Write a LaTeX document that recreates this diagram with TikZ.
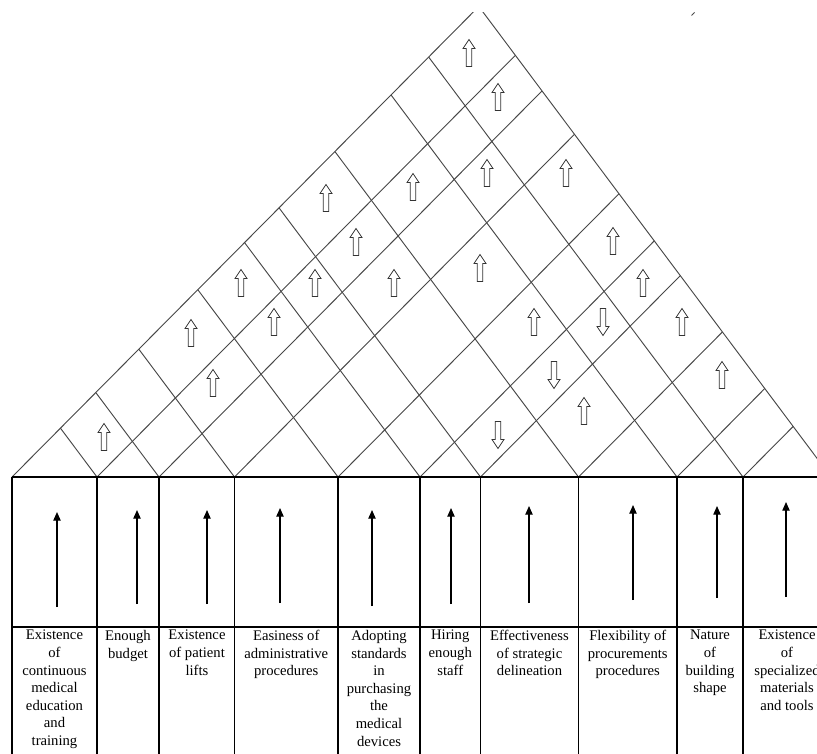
\documentclass[tikz,border=0pt]{standalone}
\usepackage{fontspec}
\setmainfont{Liberation Serif}
\usetikzlibrary{arrows.meta,calc}
\begin{document}
\begin{tikzpicture}[x=0.75pt,y=-0.75pt,
  roofline/.style={draw=black!72, line width=0.7pt},
  boxline/.style={draw=black, line width=0.9pt},
  colarrow/.style={draw=black, line width=0.9pt, -{Triangle[length=6.5pt,width=5.5pt]}},
  lbl/.style={anchor=north, inner sep=0pt, align=center, font=\fontsize{11}{13.2}\selectfont},
  hollow/.pic={\draw[line width=0.6pt, draw=black!80, fill=white] (0,-13.5) -- (6,-4.5) -- (2.8,-4.5) -- (2.8,13.5) -- (-2.8,13.5) -- (-2.8,-4.5) -- (-6,-4.5) -- cycle;}
]
\useasboundingbox (0,0) rectangle (817,753);
\fill[white] (0,0) rectangle (817,753);
\begin{scope}
\clip (0,12) rectangle (817,753);
% column boundaries on the base line
\foreach \n/\bx in {0/12,1/97,2/159,3/234.5,4/338,5/420,6/480.5,7/578.5,8/677,9/743,10/831}{
  \coordinate (b\n) at (\bx,477);
}
% lines rising to the right, ending on the right edge of the roof
\foreach \n/\bx in {0/12,1/97,2/159,3/234.5,4/338,5/420,6/480.5,7/578.5,8/677,9/743}{
  \pgfmathsetmacro\ex{(1.008*\bx+1.336*831)/2.344}
  \pgfmathsetmacro\ey{477-(\ex-\bx)*1.008}
  \coordinate (r\n) at (\ex,\ey);
  \draw[roofline] (b\n) -- (r\n);
}
% lines rising to the left, ending on the left edge of the roof
\foreach \n/\bx in {1/97,2/159,3/234.5,4/338,5/420,6/480.5,7/578.5,8/677,9/743,10/831}{
  \pgfmathsetmacro\ex{(1.008*12+1.336*\bx)/2.344}
  \pgfmathsetmacro\ey{477-(\ex-12)*1.008}
  \coordinate (l\n) at (\ex,\ey);
  \draw[roofline] (b\n) -- (l\n);
}
% box
\coordinate (tl) at (12,477);
\coordinate (tr) at (831,477);
\coordinate (ml) at (12,627);
\coordinate (mr) at (831,627);
\draw[boxline] (tl) -- (tr);
\draw[boxline] (ml) -- (mr);
\foreach \n in {0,...,10}{
  \coordinate (d\n) at ($(b\n)+(0,290)$);
  \draw[boxline] (b\n) -- (d\n);
}
% correlation arrows in the roof
\foreach \px/\py in {469/53, 498/97, 487/173, 566/173, 326/198, 413/187, 356/242, 613/241,
  241/283, 315/283, 394/283, 480/268, 643/283, 191/333, 274/322, 534/322, 682/322,
  213/383, 722/375, 584/411, 104/437}{
  \pic at (\px,\py) {hollow};
}
\foreach \px/\py in {603/322, 554/375, 498/435}{
  \pic[rotate=180] at (\px,\py) {hollow};
}
% column arrows
\foreach \n/\ax/\atop/\abot in {1/57/512/607, 2/137/510/604, 3/207/510/604, 4/280/508/603,
  5/372/510/606, 6/451/508/604, 7/529/506/603, 8/633/505/600, 9/717/506/598, 10/786/502/597}{
  \coordinate (ab\n) at (\ax,\abot);
  \coordinate (at\n) at (\ax,\atop);
  \draw[colarrow] (ab\n) -- (at\n);
}
% labels
\node[lbl] (t1) at (54.5,630) {Existence\\of\\continuous\\medical\\education\\and\\training};
\node[lbl] (t2) at (128,630) {Enough\\budget};
\node[lbl] (t3) at (197,630) {Existence\\of patient\\lifts};
\node[lbl] (t4) at (286.25,630) {Easiness of\\administrative\\procedures};
\node[lbl] (t5) at (379,630) {Adopting\\standards\\in\\purchasing\\the\\medical\\devices};
\node[lbl] (t6) at (450.25,630) {Hiring\\enough\\staff};
\node[lbl] (t7) at (529.5,630) {Effectiveness\\of strategic\\delineation};
\node[lbl] (t8) at (627.75,630) {Flexibility of\\procurements\\procedures};
\node[lbl] (t9) at (710,630) {Nature\\of\\building\\shape};
\node[lbl] (t10) at (787,630) {Existence\\of\\specialized\\materials\\and tools};
% small stray mark near the top
\coordinate (s1) at (691.5,15.5);
\coordinate (s2) at (694.5,12.5);
\draw[black!70, line width=0.6pt] (s1) -- (s2);
\end{scope}
\end{tikzpicture}
\end{document}
